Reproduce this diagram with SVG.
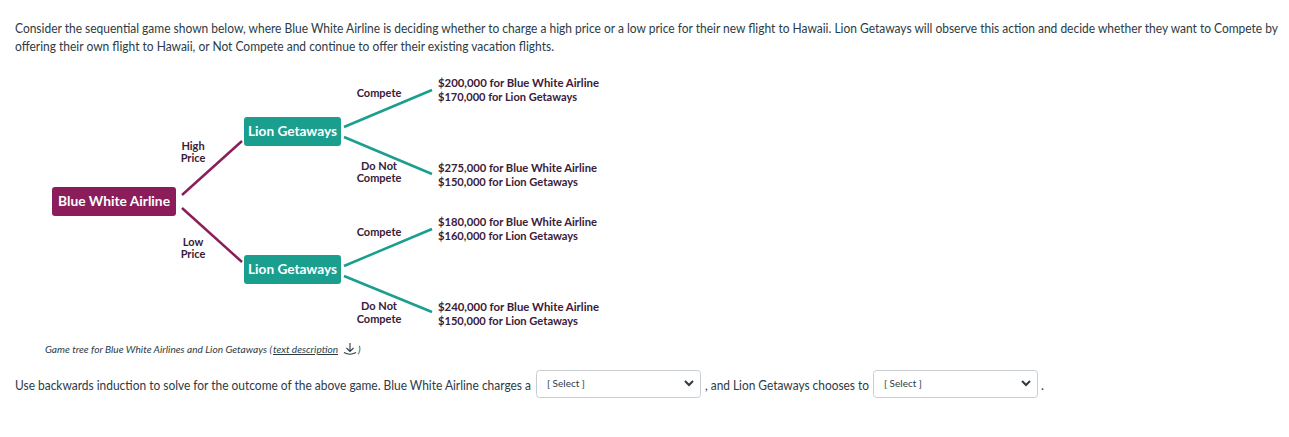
<svg xmlns="http://www.w3.org/2000/svg" width="1289" height="437" viewBox="0 0 1289 437">
<style>
.body{font-family:Lato,"Liberation Sans",sans-serif;font-size:12.5px;fill:#2d3b45}
.node{font-family:Lato,"Open Sans",sans-serif;font-size:13.5px;font-weight:bold;fill:#ffffff}
.lbl{font-family:Lato,"Open Sans",sans-serif;font-size:11px;font-weight:bold;fill:#3a2038;text-anchor:middle}
.pay{font-family:Lato,"Open Sans",sans-serif;font-size:11px;font-weight:bold;fill:#3a2038}
.cap{font-family:Lato,"Liberation Sans",sans-serif;font-size:10px;font-style:italic;fill:#2d3b45}
.maroon{stroke:#8b1e5a;stroke-width:2.5;fill:none}
.teal{stroke:#1a9e8e;stroke-width:2.5;fill:none}
.sel{fill:#ffffff;stroke:#c7cdd1;stroke-width:1}
.seltxt{font-family:Lato,"Liberation Sans",sans-serif;font-size:10px;fill:#2d3b45}
.chev{stroke:#2d3b45;stroke-width:2;fill:none}
</style>
<rect width="1289" height="437" fill="#ffffff"/>
<text class="body" x="15" y="33" textLength="1263" lengthAdjust="spacingAndGlyphs">Consider the sequential game shown below, where Blue White Airline is deciding whether to charge a high price or a low price for their new flight to Hawaii. Lion Getaways will observe this action and decide whether they want to Compete by</text>
<text class="body" x="15" y="51" textLength="539" lengthAdjust="spacingAndGlyphs">offering their own flight to Hawaii, or Not Compete and continue to offer their existing vacation flights.</text>

<g id="connectors">
<line class="maroon" x1="182" y1="195" x2="242" y2="141"/>
<line class="maroon" x1="182" y1="208" x2="242" y2="262"/>
<line class="teal" x1="344" y1="127" x2="432" y2="90"/>
<line class="teal" x1="344" y1="137" x2="432" y2="174"/>
<line class="teal" x1="344" y1="266" x2="432" y2="229"/>
<line class="teal" x1="344" y1="276" x2="432" y2="312"/>
</g>

<g id="labels">
<text class="lbl"><tspan x="193" y="150">High</tspan><tspan x="193" y="162">Price</tspan></text>
<text class="lbl"><tspan x="193" y="246">Low</tspan><tspan x="193" y="258">Price</tspan></text>
<text class="lbl" x="379" y="97">Compete</text>
<text class="lbl"><tspan x="379" y="170">Do Not</tspan><tspan x="379" y="182">Compete</tspan></text>
<text class="lbl" x="379" y="236">Compete</text>
<text class="lbl"><tspan x="379" y="310">Do Not</tspan><tspan x="379" y="323">Compete</tspan></text>
</g>

<g id="node-bwa">
<rect x="52" y="187" width="124" height="29" rx="3" fill="#8b1e5a"/>
<text class="node" x="58" y="206" textLength="112" lengthAdjust="spacingAndGlyphs">Blue White Airline</text>
</g>
<g id="node-lg-high">
<rect x="244" y="117" width="97" height="29" rx="3" fill="#1a9e8e"/>
<text class="node" x="248" y="136" textLength="89" lengthAdjust="spacingAndGlyphs">Lion Getaways</text>
</g>
<g id="node-lg-low">
<rect x="244" y="255" width="97" height="29" rx="3" fill="#1a9e8e"/>
<text class="node" x="248" y="274" textLength="89" lengthAdjust="spacingAndGlyphs">Lion Getaways</text>
</g>

<g id="payoff-hc">
<text class="pay" x="438" y="87" textLength="161" lengthAdjust="spacingAndGlyphs">$200,000 for Blue White Airline</text>
<text class="pay" x="438" y="101" textLength="139" lengthAdjust="spacingAndGlyphs">$170,000 for Lion Getaways</text>
</g>
<g id="payoff-hn">
<text class="pay" x="438" y="172" textLength="159" lengthAdjust="spacingAndGlyphs">$275,000 for Blue White Airline</text>
<text class="pay" x="438" y="186" textLength="140" lengthAdjust="spacingAndGlyphs">$150,000 for Lion Getaways</text>
</g>
<g id="payoff-lc">
<text class="pay" x="438" y="226" textLength="159" lengthAdjust="spacingAndGlyphs">$180,000 for Blue White Airline</text>
<text class="pay" x="438" y="240" textLength="140" lengthAdjust="spacingAndGlyphs">$160,000 for Lion Getaways</text>
</g>
<g id="payoff-ln">
<text class="pay" x="438" y="311" textLength="161" lengthAdjust="spacingAndGlyphs">$240,000 for Blue White Airline</text>
<text class="pay" x="438" y="325" textLength="140" lengthAdjust="spacingAndGlyphs">$150,000 for Lion Getaways</text>
</g>

<g id="caption">
<text class="cap" x="45" y="353" textLength="227" lengthAdjust="spacingAndGlyphs">Game tree for Blue White Airlines and Lion Getaways (</text>
<text class="cap" x="273" y="353" fill="#2b7abc" text-decoration="underline" textLength="65" lengthAdjust="spacingAndGlyphs">text description</text>
<path d="M350 343 V351 M346.5 348 L350 351.5 L353.5 348 M344 352.5 Q350 356 356 352.5" stroke="#2d3b45" stroke-width="1.1" fill="none"/>
<text class="cap" x="358" y="353">)</text>
</g>

<text class="body" x="15" y="390" textLength="516" lengthAdjust="spacingAndGlyphs">Use backwards induction to solve for the outcome of the above game. Blue White Airline charges a</text>
<g id="select1">
<rect class="sel" x="536.5" y="370.5" width="164" height="27" rx="3"/>
<text class="seltxt" x="547" y="387">[ Select ]</text>
<path class="chev" d="M685 381 L689 385 L693 381"/>
</g>
<text class="body" x="705" y="390" textLength="164" lengthAdjust="spacingAndGlyphs">, and Lion Getaways chooses to</text>
<g id="select2">
<rect class="sel" x="873.5" y="370.5" width="164" height="27" rx="3"/>
<text class="seltxt" x="884" y="387">[ Select ]</text>
<path class="chev" d="M1022 381 L1026 385 L1030 381"/>
</g>
<text class="body" x="1041" y="390">.</text>
</svg>
